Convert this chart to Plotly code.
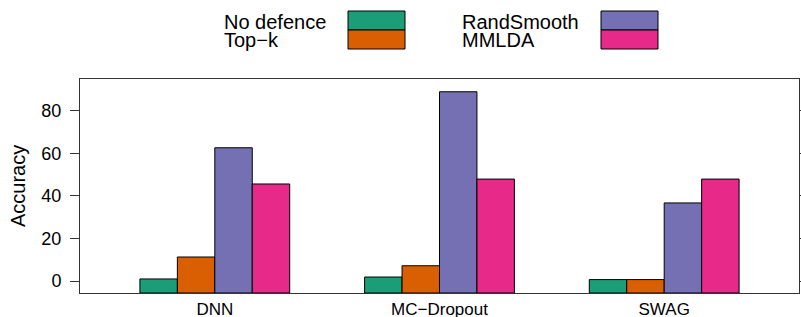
import plotly.graph_objects as go

# ---- data ----
models = ["DNN", "MC\u2212Dropout", "SWAG"]
series_names = ["No defence", "Top\u2212k", "RandSmooth", "MMLDA"]
no_defence = [1.0, 1.9, 0.7]
top_k = [11.3, 7.2, 0.7]
rand_smooth = [62.6, 88.9, 36.7]
mmlda = [45.6, 47.9, 47.9]
colors = ["#1B9E77", "#D95F02", "#7570B3", "#E7298A"]
y_ticks = [0, 20, 40, 60, 80]

series_values = [no_defence, top_k, rand_smooth, mmlda]

W, H = 801, 317
ML, MR, MT, MB = 80, 2, 79, 24
YMIN, YMAX = -5.6, 94.9
FONT = "Liberation Sans, Arial, Helvetica, sans-serif"
FS_LEG = 20
FS_TICK = 18
FS_CAT = 17

fig = go.Figure()
for name, vals, col in zip(series_names, series_values, colors):
    fig.add_trace(go.Bar(
        x=models, y=[v - YMIN for v in vals], base=YMIN, name=name,
        marker=dict(color=col, line=dict(color="black", width=1)),
        customdata=vals, hovertemplate="%{x}: %{customdata}<extra>" + name + "</extra>",
    ))

pw = W - ML - MR
ph = H - MT - MB

def px_x(x):
    return (x - ML) / pw

def px_y(y):
    return (H - MB - y) / ph

# manual legend: text on the left, swatch on the right
legend_cols = [
    dict(text_x=222, box_x0=348, box_x1=405),
    dict(text_x=460, box_x0=601, box_x1=658),
]
rows = [(11, 30), (30, 49)]
shapes = []
annotations = []
for i, (name, col) in enumerate(zip(series_names, colors)):
    c = legend_cols[i // 2]
    y0, y1 = rows[i % 2]
    shapes.append(dict(type="rect", xref="paper", yref="paper",
                       x0=px_x(c["box_x0"]), x1=px_x(c["box_x1"]),
                       y0=px_y(y1), y1=px_y(y0),
                       fillcolor=col, line=dict(color="black", width=1)))
    annotations.append(dict(text=name, xref="paper", yref="paper",
                            x=px_x(c["text_x"]), y=px_y((y0 + y1) / 2 + 1),
                            xanchor="left", yanchor="middle", showarrow=False,
                            font=dict(family=FONT, size=FS_LEG, color="black")))

annotations.append(dict(text="Accuracy", xref="paper", yref="paper",
                        x=px_x(18), y=0.5, textangle=-90, showarrow=False,
                        xanchor="center", yanchor="middle",
                        font=dict(family=FONT, size=FS_LEG, color="black")))

fig.update_layout(
    width=W, height=H,
    margin=dict(l=ML, r=MR, t=MT, b=MB, pad=0, autoexpand=False),
    paper_bgcolor="white", plot_bgcolor="white",
    barmode="group", bargap=1/3, bargroupgap=0,
    showlegend=False,
    font=dict(family=FONT, size=FS_TICK, color="black"),
    shapes=shapes, annotations=annotations,
)
fig.update_xaxes(
    range=[-0.6, 2.6], showline=True, linecolor="#333", linewidth=1, mirror=True,
    ticks="", showgrid=False, zeroline=False, automargin=False,
    ticklabelstandoff=1,
    tickfont=dict(family=FONT, size=FS_CAT, color="black"),
)
fig.update_yaxes(
    range=[YMIN, YMAX], tickvals=y_ticks, showline=True, linecolor="#333", linewidth=1,
    mirror="ticks", ticks="outside", ticklen=9, tickcolor="#333", tickwidth=1,
    ticklabelstandoff=5, showgrid=False, zeroline=False, automargin=False,
    tickfont=dict(family=FONT, size=FS_TICK, color="black"),
)

fig.write_html("out.html", config={"displayModeBar": False},
               post_script="document.body.style.margin='0';")
